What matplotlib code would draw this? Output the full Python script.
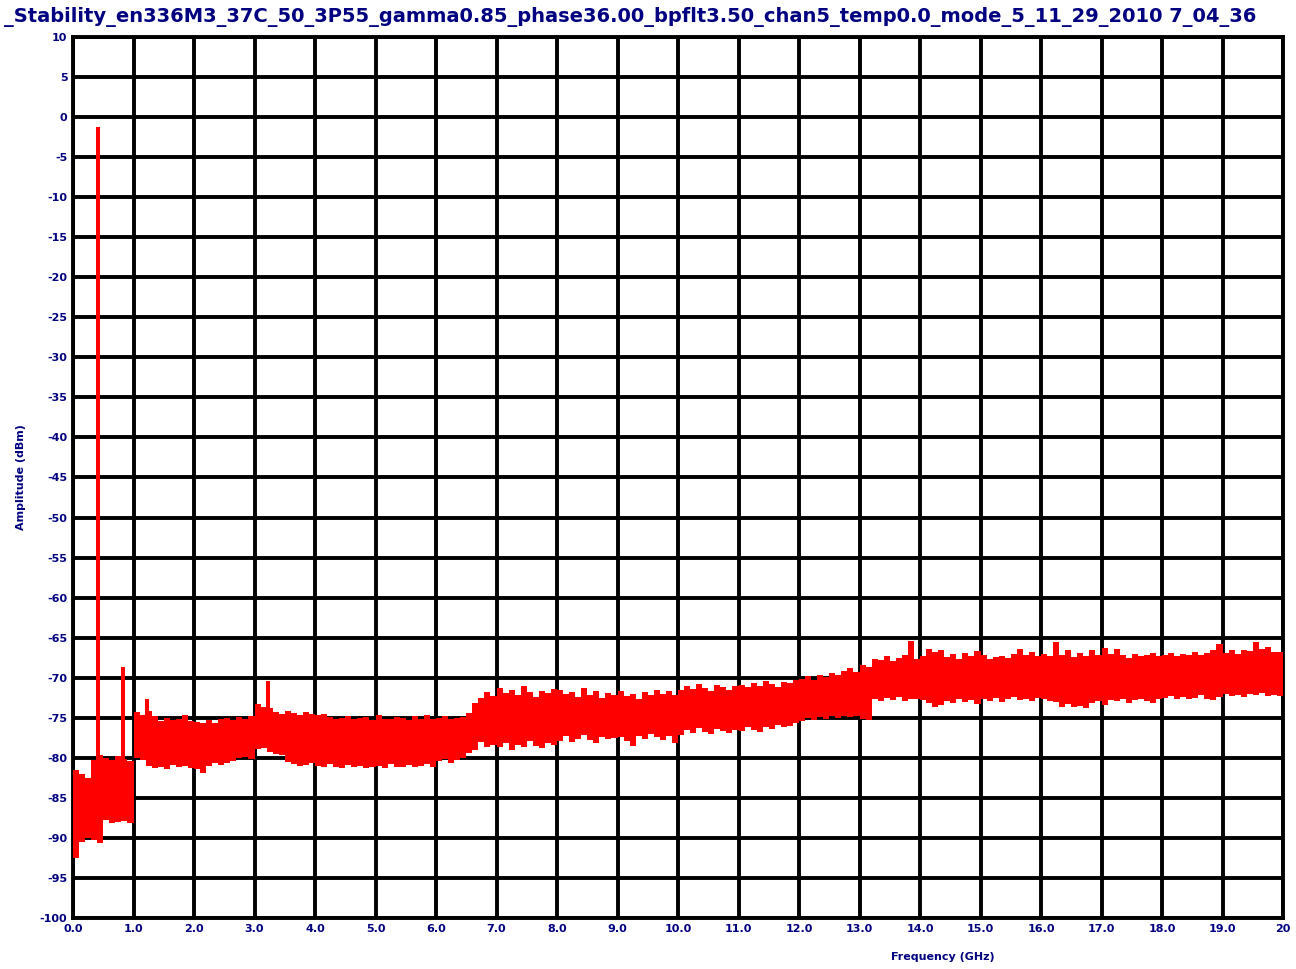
import matplotlib
matplotlib.use('Agg')
import matplotlib.pyplot as plt
import numpy as np

# ---- data ----
# upper / lower envelope of the noise band, one value per 0.1 GHz bin (dBm)
band_hi = [
    -81.5, -82.0, -82.5, -80.3, -79.7, -80.0, -80.3, -79.8, -80.2, -80.4,
    -74.3, -74.6, -74.2, -74.8, -75.4, -75.0, -75.3, -75.2, -74.7, -75.4,
    -75.5, -75.7, -75.3, -75.6, -75.2, -75.0, -75.3, -74.9, -75.1, -74.8,
    -73.3, -73.6, -73.8, -74.3, -74.5, -74.2, -74.4, -74.6, -74.3, -74.5,
    -74.6, -74.5, -74.9, -75.1, -75.0, -74.8, -75.2, -75.0, -74.9, -75.3,
    -74.6, -75.1, -75.2, -74.9, -75.0, -75.3, -74.8, -75.1, -74.6, -75.2,
    -75.0, -74.8, -75.2, -75.0, -74.9, -74.4, -73.2, -72.5, -71.8, -72.3,
    -71.3, -71.9, -71.5, -72.2, -71.0, -71.8, -72.4, -71.6, -71.9, -71.4,
    -71.5, -72.0, -71.8, -72.4, -71.3, -72.1, -71.7, -72.5, -71.9, -72.2,
    -71.6, -72.3, -72.0, -72.6, -71.8, -72.2, -71.5, -72.0, -71.7, -72.1,
    -71.5, -71.0, -71.4, -70.8, -71.3, -71.6, -70.9, -71.2, -71.5, -71.0,
    -70.9, -71.2, -70.6, -71.0, -70.4, -70.8, -71.1, -70.5, -70.7, -70.3,
    -70.1, -69.8, -70.3, -69.6, -69.9, -69.4, -69.7, -69.2, -68.8, -69.3,
    -68.4, -68.6, -67.6, -67.8, -67.3, -67.9, -67.5, -67.2, -65.4, -67.6,
    -67.3, -66.4, -66.8, -66.5, -67.4, -67.0, -67.6, -66.9, -67.3, -66.7,
    -67.2, -67.6, -67.4, -67.3, -67.5, -67.0, -66.4, -67.2, -66.8, -67.3,
    -67.0, -67.3, -65.5, -67.1, -66.5, -67.4, -66.9, -67.3, -66.5, -67.1,
    -66.3, -67.0, -66.4, -67.2, -67.5, -67.0, -67.3, -67.1, -66.9, -67.3,
    -67.2, -66.9, -67.3, -67.0, -67.1, -66.8, -67.2, -66.9, -66.5, -65.8,
    -66.9, -66.6, -67.0, -66.5, -66.7, -65.5, -66.4, -66.2, -66.8, -66.8,
]
band_lo = [
    -92.5, -90.5, -90.0, -90.2, -90.6, -87.8, -88.2, -88.0, -87.9, -88.2,
    -80.0, -80.3, -81.0, -81.3, -81.1, -81.4, -80.9, -81.2, -81.0, -81.3,
    -81.4, -81.9, -81.0, -80.7, -80.9, -80.6, -80.4, -80.0, -79.9, -80.1,
    -78.9, -78.8, -79.3, -79.5, -79.6, -80.5, -80.8, -81.0, -80.9, -80.7,
    -81.0, -81.2, -80.8, -81.1, -81.3, -80.9, -81.2, -81.0, -81.3, -81.1,
    -81.0, -81.3, -80.8, -81.2, -81.1, -80.9, -81.2, -81.0, -80.8, -81.1,
    -80.4, -80.2, -80.6, -80.3, -80.0, -79.4, -79.0, -78.0, -78.6, -78.4,
    -78.6, -78.2, -79.0, -78.4, -78.7, -77.9, -78.5, -78.8, -78.1, -78.4,
    -77.9, -77.3, -78.0, -77.6, -77.2, -77.8, -78.1, -77.4, -77.7, -77.5,
    -77.4, -77.9, -78.5, -77.3, -77.6, -77.0, -77.4, -77.8, -77.3, -78.1,
    -77.2, -76.5, -76.9, -76.3, -76.8, -77.0, -76.4, -76.7, -76.9, -76.5,
    -76.6, -76.2, -76.5, -76.8, -76.1, -76.4, -75.9, -76.2, -76.0, -75.6,
    -75.4, -75.0, -75.3, -74.9, -75.2, -74.8, -75.0, -74.8, -74.9, -74.8,
    -75.1, -75.3, -72.6, -72.9, -72.5, -72.8, -72.4, -72.9, -72.6, -72.7,
    -72.8, -73.2, -73.7, -73.4, -72.9, -73.1, -72.7, -73.0, -72.8, -73.3,
    -72.6, -72.9, -72.5, -73.0, -72.7, -72.4, -72.8, -72.6, -72.9, -72.5,
    -72.6, -72.9, -73.0, -73.6, -73.3, -73.7, -73.5, -73.8, -73.2, -72.9,
    -73.4, -72.8, -72.9, -72.6, -73.2, -72.8, -72.7, -72.9, -73.1, -72.6,
    -72.5, -72.3, -72.7, -72.4, -72.6, -72.5, -72.2, -72.6, -72.8, -72.4,
    -72.0, -72.3, -72.1, -72.4, -72.0, -72.2, -71.9, -72.3, -72.1, -72.3,
]
bin_width_ghz = 0.1

# narrow spurs above the noise band
spike_freq = [0.41, 0.83, 1.23, 3.22]
spike_peak = [-1.25, -68.7, -72.6, -70.4]
spike_base = [-90.0, -87.5, -80.0, -78.5]

x_ticks = list(range(0, 21))
x_tick_labels = [f"{v:.1f}" for v in x_ticks[:-1]] + ["20"]
y_ticks = list(range(-100, 11, 5))
y_tick_labels = [str(v) for v in y_ticks]

title = ("_Stability_en336M3_37C_50_3P55_gamma0.85_phase36.00_bpflt3.50_"
         "chan5_temp0.0_mode_5_11_29_2010 7_04_36")

# ---- drawing ----
W, H = 1296, 969
fig = plt.figure(figsize=(W / 100, H / 100), dpi=100)
fig.patch.set_facecolor('white')
L, R, T, B = 73, 1283, 37, 918
ax = fig.add_axes([L / W, 1 - B / H, (R - L) / W, (B - T) / H])

navy = '#000080'
ax.set_xlim(0, 20)
ax.set_ylim(-100, 10)
ax.set_xticks(x_ticks)
ax.set_xticklabels(x_tick_labels, fontsize=8, fontweight='bold', color=navy)
ax.set_yticks(y_ticks)
ax.set_yticklabels(y_tick_labels, fontsize=8, fontweight='bold', color=navy)
ax.tick_params(length=0, pad=4)
ax.set_axisbelow(True)
ax.grid(True, color='black', linewidth=2.8)
for s in ax.spines.values():
    s.set_color('black')
    s.set_linewidth(2.8)

freq = np.arange(len(band_hi)) * bin_width_ghz
xs = np.append(freq, freq[-1] + bin_width_ghz)
hi = np.append(band_hi, band_hi[-1])
lo = np.append(band_lo, band_lo[-1])
ax.fill_between(xs, lo, hi, step='post', color='#ff0000', linewidth=0, zorder=3)
ax.vlines(spike_freq, spike_base, spike_peak, color='#ff0000', linewidth=2.9, zorder=3)

ax.set_ylabel("Amplitude (dBm)", fontsize=8, fontweight='bold', color=navy, labelpad=10)
fig.text(943 / W, 1 - 957 / H, "Frequency (GHz)", fontsize=8, fontweight='bold',
         color=navy, ha='center', va='center')
fig.text(4 / W, 1 - 17 / H, title, fontsize=14.0, fontweight='bold', color=navy,
         ha='left', va='center', family='DejaVu Sans')

fig.savefig('out.png', dpi=100)
